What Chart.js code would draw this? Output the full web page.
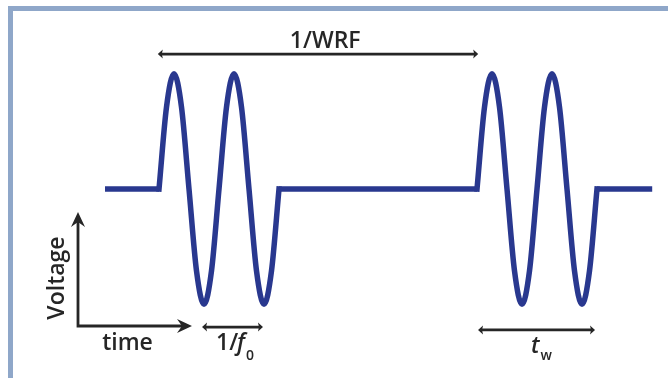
<!DOCTYPE html>
<html>
<head>
<meta charset="utf-8">
<script src="https://cdn.jsdelivr.net/npm/chart.js@4/dist/chart.umd.min.js"></script>
<style>
  html, body { margin: 0; padding: 0; background: #ffffff; }
  #wrap { position: relative; width: 668px; height: 378px; overflow: hidden; }
  #frame { position: absolute; left: 8px; top: 6px; width: 700px; height: 400px;
           border-top: 5px solid #8fa7c9; border-left: 5px solid #8fa7c9; box-sizing: border-box; }
  canvas { position: absolute; left: 0; top: 0; }
</style>
</head>
<body>
<div id="wrap">
  <div id="frame"></div>
  <canvas id="c" width="668" height="378"></canvas>
</div>
<script>
// ---- data (time in units of 1/f0, voltage normalised to burst amplitude) ----
const baselineTime = [-0.9, 0, 1, 2, 5.3, 6.3, 7.3, 8.22];
const baselineVolt = [0, 0, null, 0, 0, null, 0, 0];

const burst1Time = [0, 0.125, 0.25, 0.375, 0.5, 0.625, 0.75, 0.875, 1, 1.125, 1.25, 1.375, 1.5, 1.625, 1.75, 1.875, 2];
const burst1Volt = [0, 0.71, 1, 0.71, 0, -0.71, -1, -0.71, 0, 0.71, 1, 0.71, 0, -0.71, -1, -0.71, 0];

const burst2Time = [5.3, 5.425, 5.55, 5.675, 5.8, 5.925, 6.05, 6.175, 6.3, 6.425, 6.55, 6.675, 6.8, 6.925, 7.05, 7.175, 7.3];
const burst2Volt = [0, 0.71, 1, 0.71, 0, -0.71, -1, -0.71, 0, 0.71, 1, 0.71, 0, -0.71, -1, -0.71, 0];

// annotation labels
const labelWRF = "1/WRF";
const labelVoltage = "Voltage";
const labelTime = "time";

function pts(xs, ys) { return xs.map((x, i) => ({ x: x, y: ys[i] })); }

const WAVE = '#29388f';
const INK = '#262626';
const FONT = '"Open Sans", "DejaVu Sans", sans-serif';
const W = '600 ';

function dimArrow(ctx, x1, x2, y) {
  ctx.save();
  ctx.strokeStyle = INK; ctx.fillStyle = INK; ctx.lineWidth = 2.8;
  ctx.beginPath(); ctx.moveTo(x1 + 2, y); ctx.lineTo(x2 - 2, y); ctx.stroke();
  [[x1, 1], [x2, -1]].forEach(([x, d]) => {
    ctx.beginPath();
    ctx.moveTo(x, y);
    ctx.lineTo(x + d * 5, y - 4.5);
    ctx.lineTo(x + d * 4, y);
    ctx.lineTo(x + d * 5, y + 4.5);
    ctx.closePath(); ctx.fill();
  });
  ctx.restore();
}

function bigHead(ctx, x, y, dir) {
  ctx.save();
  ctx.translate(x, y);
  if (dir === 'right') ctx.rotate(Math.PI / 2);
  ctx.fillStyle = INK;
  ctx.beginPath();
  ctx.moveTo(0, 0);
  ctx.lineTo(7, 15);
  ctx.lineTo(0, 10);
  ctx.lineTo(-7, 15);
  ctx.closePath(); ctx.fill();
  ctx.restore();
}

const annotations = {
  id: 'annotations',
  afterDatasetsDraw(chart) {
    const ctx = chart.ctx, xs = chart.scales.x, ys = chart.scales.y;
    const X = v => xs.getPixelForValue(v), Y = v => ys.getPixelForValue(v);

    // 1/WRF dimension
    dimArrow(ctx, X(-0.02), X(5.32), Y(1.17));
    ctx.save();
    ctx.fillStyle = INK;
    ctx.font = W + '23px ' + FONT;
    ctx.textAlign = 'center'; ctx.textBaseline = 'alphabetic';
    ctx.fillText(labelWRF, X(2.77), Y(1.223));
    ctx.restore();

    // axes sketch
    const ax = X(-1.35), ay = Y(-1.188);
    ctx.save();
    ctx.strokeStyle = INK; ctx.lineWidth = 2.8;
    ctx.beginPath();
    ctx.moveTo(ax, Y(-0.2) + 8); ctx.lineTo(ax, ay); ctx.lineTo(X(0.55) - 8, ay);
    ctx.stroke();
    ctx.restore();
    bigHead(ctx, ax, Y(-0.2), 'up');
    bigHead(ctx, X(0.55), ay, 'right');

    ctx.save();
    ctx.fillStyle = INK;
    ctx.font = W + '23px ' + FONT;
    ctx.textAlign = 'center'; ctx.textBaseline = 'alphabetic';
    ctx.fillText(labelTime, X(-0.525), Y(-1.398));
    ctx.translate(X(-1.59), Y(-0.772));
    ctx.rotate(-Math.PI / 2);
    ctx.fillText(labelVoltage, 0, 0);
    ctx.restore();

    // 1/f0 dimension
    dimArrow(ctx, X(0.717), X(1.733), Y(-1.197));
    ctx.save();
    ctx.fillStyle = INK;
    ctx.textBaseline = 'alphabetic'; ctx.textAlign = 'left';
    ctx.font = W + '23px ' + FONT;
    const bx = X(0.95), by = Y(-1.398);
    ctx.fillText('1/', bx, by);
    let w = ctx.measureText('1/').width;
    ctx.font = 'italic ' + W + '23px ' + FONT;
    ctx.fillText('f', bx + w - 1, by);
    w += ctx.measureText('f').width;
    ctx.font = W + '14px ' + FONT;
    ctx.fillText('0', bx + w, by + 10);
    ctx.restore();

    // t_w dimension
    dimArrow(ctx, X(5.317), X(7.267), Y(-1.222));
    ctx.save();
    ctx.fillStyle = INK;
    ctx.textBaseline = 'alphabetic'; ctx.textAlign = 'left';
    ctx.font = 'italic ' + W + '23px ' + FONT;
    const tx = X(6.2), ty = Y(-1.42);
    ctx.fillText('t', tx, ty);
    const tw = ctx.measureText('t').width;
    ctx.font = W + '14px ' + FONT;
    ctx.fillText('w', tx + tw + 1, ty + 7);
    ctx.restore();
  }
};

new Chart(document.getElementById('c'), {
  type: 'line',
  data: {
    datasets: [
      { data: pts(baselineTime, baselineVolt), borderColor: WAVE, borderWidth: 5.5,
        pointRadius: 0, tension: 0, spanGaps: false, borderCapStyle: 'butt', borderJoinStyle: 'miter' },
      { data: pts(burst1Time, burst1Volt), borderColor: WAVE, borderWidth: 5.5,
        pointRadius: 0, cubicInterpolationMode: 'monotone', borderCapStyle: 'square' },
      { data: pts(burst2Time, burst2Volt), borderColor: WAVE, borderWidth: 5.5,
        pointRadius: 0, cubicInterpolationMode: 'monotone', borderCapStyle: 'square' }
    ]
  },
  options: {
    responsive: false,
    animation: false,
    events: [],
    layout: { padding: { left: 39, right: 5, top: 16, bottom: 16 } },
    plugins: { legend: { display: false }, tooltip: { enabled: false }, title: { display: false } },
    scales: {
      x: { type: 'linear', min: -2, max: 8.4, display: false },
      y: { type: 'linear', min: -1.5, max: 1.5, display: false }
    }
  },
  plugins: [annotations]
});
</script>
</body>
</html>
